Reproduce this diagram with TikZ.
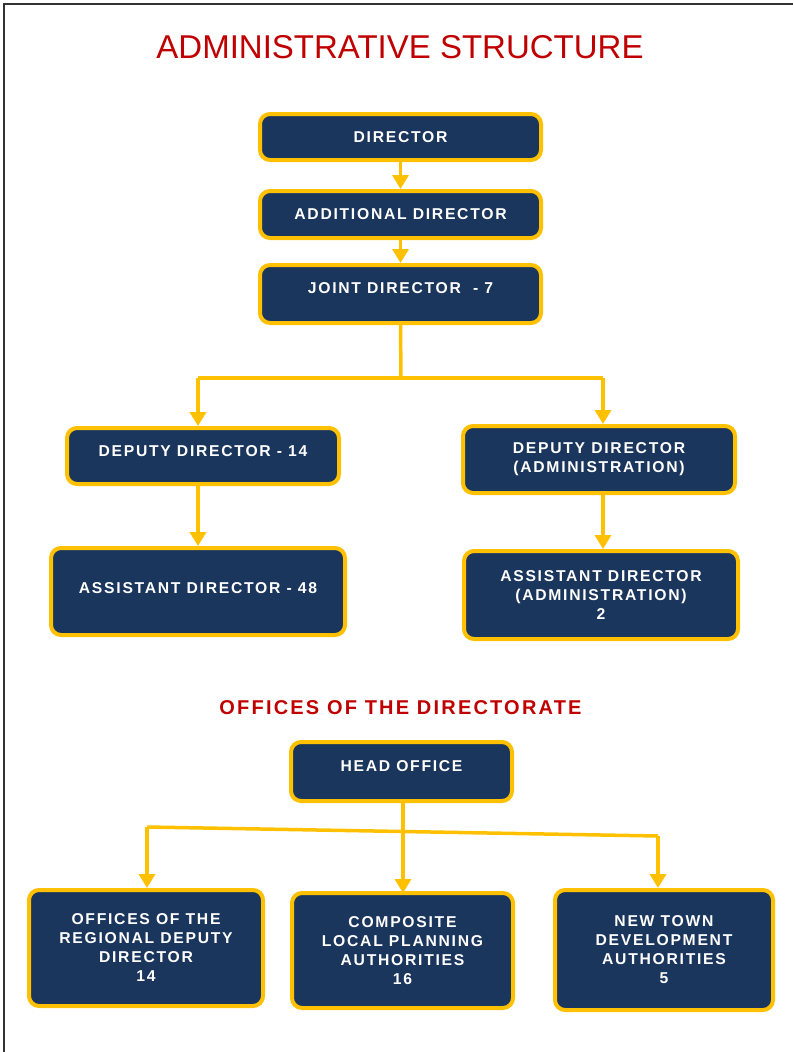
\documentclass[tikz,border=0pt]{standalone}
\usepackage{fontspec}
\setmainfont{Liberation Sans}
\newfontfamily\boxfont[LetterSpace=11]{Liberation Sans}
\usetikzlibrary{arrows.meta}
\definecolor{navy}{RGB}{27,54,93}
\definecolor{gold}{RGB}{255,192,0}
\definecolor{titlered}{RGB}{192,0,0}

\begin{document}
\begin{tikzpicture}[
    x=1pt, y=-1pt,
    box/.style={rectangle, draw=gold, fill=navy, line width=4pt, rounded corners=10pt, text=white, align=center, inner sep=0pt, font=\boxfont\bfseries\fontsize{15.7}{19}\selectfont},
    arrow/.style={draw=gold, line width=3.5pt, -{Triangle[width=16pt,length=14pt]}},
    link/.style={draw=gold, line width=3.5pt}
]
\useasboundingbox (0,0) rectangle (793,1052);

% Frame
\draw[line width=2pt, black!80] (4,1052) -- (4,4) -- (793,4);

% Titles
\node[text=titlered, font=\fontsize{33}{38}\selectfont] (title) at (400,47) {ADMINISTRATIVE STRUCTURE};
\node[text=titlered, font=\boxfont\bfseries\fontsize{20}{24}\selectfont] (offtitle) at (400.5,708) {OFFICES OF THE DIRECTORATE};

% Nodes - administrative structure
\node[box, minimum width=281, minimum height=46] (director) at (400.5,137) {DIRECTOR};
\node[box, minimum width=281, minimum height=47] (addl) at (400.5,214.5) {ADDITIONAL DIRECTOR};
\node[box, minimum width=281, minimum height=58, text depth=12pt] (joint) at (400.5,294) {JOINT DIRECTOR\ \ - 7};
\node[box, minimum width=272, minimum height=56, text depth=10pt] (dep14) at (203,456) {DEPUTY DIRECTOR - 14};
\node[box, minimum width=272, minimum height=67] (depadm) at (599,459.5) {DEPUTY DIRECTOR\\(ADMINISTRATION)};
\node[box, minimum width=294, minimum height=87, text depth=6pt] (asst48) at (198,591.5) {ASSISTANT DIRECTOR - 48};
\node[box, minimum width=274, minimum height=88] (asstadm) at (601,595) {ASSISTANT DIRECTOR\\(ADMINISTRATION)\\2};

% Nodes - offices
\node[box, minimum width=221, minimum height=59, text depth=10pt] (head) at (401.5,771.5) {HEAD OFFICE};
\node[box, minimum width=234, minimum height=116] (regional) at (146,948) {OFFICES OF THE\\REGIONAL DEPUTY\\DIRECTOR\\14};
\node[box, minimum width=221, minimum height=115] (composite) at (402.5,950.5) {COMPOSITE\\LOCAL PLANNING\\AUTHORITIES\\16};
\node[box, minimum width=218, minimum height=120] (newtown) at (664,950) {NEW TOWN\\DEVELOPMENT\\AUTHORITIES\\5};

% Junctions
\coordinate (split) at (401,378);
\coordinate (splitl) at (198,378);
\coordinate (splitr) at (603,378);
\coordinate (offl) at (147,827);
\coordinate (offr) at (658,836);

% Arrows
\draw[arrow] (director) -- (addl);
\draw[arrow] (addl) -- (joint);
\draw[link] (joint.south) -- (split);
\draw[link] (splitl) -- (splitr);
\draw[arrow] (splitl) -- (splitl |- dep14.north);
\draw[arrow] (splitr) -- (splitr |- depadm.north);
\draw[arrow] (dep14.south -| splitl) -- (splitl |- asst48.north);
\draw[arrow] (depadm.south -| splitr) -- (splitr |- asstadm.north);

\draw[arrow] (head.south -| 403,0) -- (403,893);
\draw[link] (offl) -- (offr);
\draw[arrow] (offl) -- (offl |- regional.north);
\draw[arrow] (offr) -- (offr |- newtown.north);

\end{tikzpicture}
\end{document}
